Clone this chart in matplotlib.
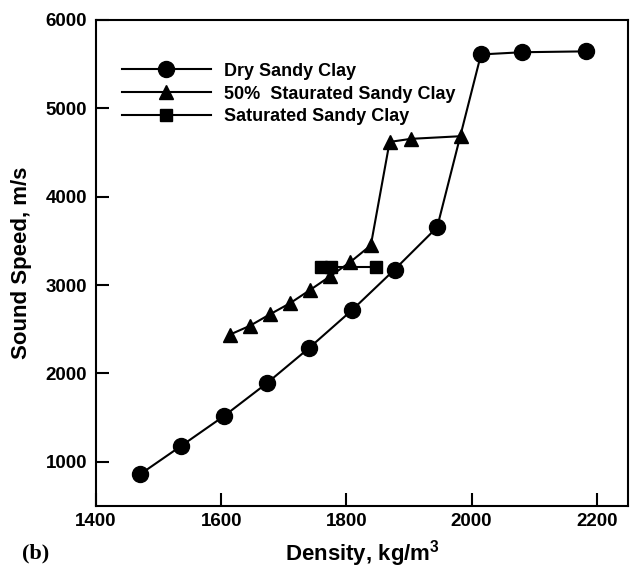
import matplotlib
matplotlib.use("Agg")
import matplotlib.pyplot as plt

plt.rcParams["font.family"] = ["Liberation Sans", "DejaVu Sans"]
plt.rcParams["mathtext.fontset"] = "custom"
plt.rcParams["mathtext.rm"] = "Liberation Sans:bold"
plt.rcParams["mathtext.it"] = "Liberation Sans:bold"
plt.rcParams["mathtext.bf"] = "Liberation Sans:bold"

# density (kg/m^3) and sound speed (m/s) for each soil condition
dry_density = [1470, 1536, 1605, 1673, 1741, 1809, 1877, 1945, 2015, 2080, 2183]
dry_speed = [857, 1180, 1521, 1890, 2292, 2717, 3176, 3655, 5610, 5635, 5645]

half_density = [1614, 1646, 1678, 1710, 1742, 1774, 1806, 1839, 1869, 1903, 1983]
half_speed = [2440, 2540, 2670, 2795, 2945, 3100, 3260, 3450, 4620, 4655, 4685]

sat_density = [1760, 1776, 1847]
sat_speed = [3205, 3205, 3205]

fig = plt.figure(figsize=(6.3, 5.71), dpi=100)
ax = fig.add_axes([0.1524, 0.1138, 0.8446, 0.8512])

ax.plot(dry_density, dry_speed, "k-", marker="o", markersize=11.5,
        linewidth=1.5, label="Dry Sandy Clay")
ax.plot(half_density, half_speed, "k-", marker="^", markersize=10,
        linewidth=1.5, label="50%  Staurated Sandy Clay")
ax.plot(sat_density, sat_speed, "k-", marker="s", markersize=8,
        linewidth=1.5, label="Saturated Sandy Clay")

ax.set_xlim(1400, 2250)
ax.set_ylim(500, 6000)
ax.set_xticks([1400, 1600, 1800, 2000, 2200])
ax.set_yticks([1000, 2000, 3000, 4000, 5000, 6000])

for s in ax.spines.values():
    s.set_linewidth(1.5)
ax.tick_params(direction="in", length=9.5, width=1.5, labelsize=13.5)
ax.tick_params(axis="x", pad=5)
ax.tick_params(axis="y", pad=6.5)
for lbl in ax.get_xticklabels() + ax.get_yticklabels():
    lbl.set_fontweight("bold")

ax.set_xlabel("Density, kg/m$^3$", fontsize=16, fontweight="bold", labelpad=6)
ax.set_ylabel("Sound Speed, m/s", fontsize=16, fontweight="bold", labelpad=10)

leg = ax.legend(loc="upper left", bbox_to_anchor=(0.049, 0.912), frameon=False,
                fontsize=13, handlelength=4.9, handletextpad=0.72,
                labelspacing=0.32, borderpad=0, borderaxespad=0)
for t in leg.get_texts():
    t.set_fontweight("bold")

fig.text(0.035, 0.022, "(b)", fontsize=16, fontweight="bold",
         family="Liberation Serif")

fig.savefig("out.png", dpi=100)
